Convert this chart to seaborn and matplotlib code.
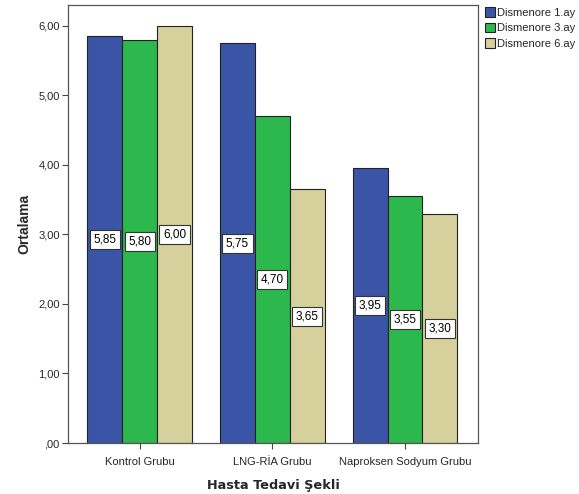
import matplotlib
matplotlib.use("Agg")
import matplotlib.pyplot as plt
import seaborn as sns
import pandas as pd

groups = ["Kontrol Grubu", "LNG-RİA Grubu", "Naproksen Sodyum Grubu"]
series = ["Dismenore 1.ay", "Dismenore 3.ay", "Dismenore 6.ay"]
month1 = [5.85, 5.75, 3.95]
month3 = [5.80, 4.70, 3.55]
month6 = [6.00, 3.65, 3.30]
colors = ["#3A55A6", "#2DB84D", "#D6D09C"]
yticks = [0, 1, 2, 3, 4, 5, 6]
ytick_labels = [",00", "1,00", "2,00", "3,00", "4,00", "5,00", "6,00"]

rows = []
for s, vals in zip(series, [month1, month3, month6]):
    for g, v in zip(groups, vals):
        rows.append({"grup": g, "seri": s, "deger": v})
df = pd.DataFrame(rows)

sns.set_theme(style="white")
plt.rcParams["font.family"] = ["Liberation Sans", "DejaVu Sans"]

fig = plt.figure(figsize=(5.79, 4.94), dpi=100)
ax = fig.add_axes([68 / 579, 51 / 494, 410 / 579, 438 / 494])

sns.barplot(data=df, x="grup", y="deger", hue="seri", order=groups,
            hue_order=series, palette=colors, width=0.79, edgecolor="#222222",
            linewidth=0.8, saturation=1, errorbar=None, ax=ax)

# boxed value label in the middle of each bar
for cont in ax.containers:
    for bar in cont:
        h = bar.get_height()
        ax.text(bar.get_x() + bar.get_width() / 2, h / 2,
                f"{h:.2f}".replace(".", ","), ha="center", va="center",
                fontsize=8.5, color="black",
                bbox=dict(boxstyle="square,pad=0.3", fc="white",
                          ec="#333333", lw=0.8))

ax.set_ylim(0, 6.3)
ax.set_xlim(-0.54, 2.55)
ax.set_yticks(yticks)
ax.set_yticklabels(ytick_labels, fontsize=8)
ax.tick_params(axis="x", labelsize=8, length=4, width=0.8, color="#444444",
               bottom=True, pad=6)
ax.tick_params(axis="y", length=4, width=0.8, color="#444444", left=True,
               pad=2)
for sp in ax.spines.values():
    sp.set_color("#555555")
    sp.set_linewidth(0.9)

ax.set_xlabel("Hasta Tedavi Şekli", fontsize=9.3, fontweight="bold",
              labelpad=9, family=["DejaVu Sans"])
ax.set_ylabel("Ortalama", fontsize=10, fontweight="bold", labelpad=5,
              family=["Liberation Sans", "DejaVu Sans"])

ax.legend(loc="upper left", bbox_to_anchor=(1.0, 1.01), frameon=False,
          fontsize=8, handlelength=0.95, handleheight=1.0, handletextpad=0.2,
          labelspacing=0.4, borderaxespad=0.2, title=None)

fig.savefig("out.png", dpi=100)
